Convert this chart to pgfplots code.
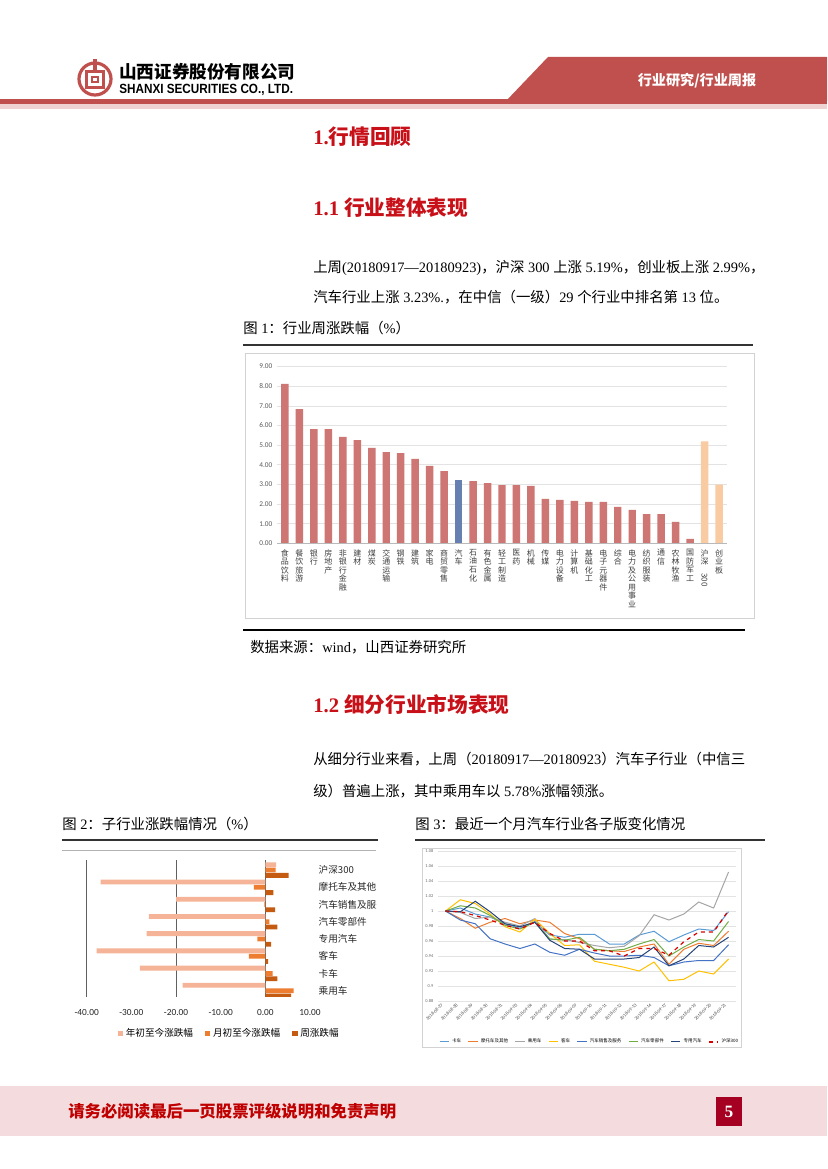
\documentclass[border=0pt]{standalone}
\usepackage{fontspec}
\usepackage{graphicx}
\usepackage{pgfplots}
\pgfplotsset{compat=1.18}
\setmainfont{Liberation Serif}
\newfontfamily\cjk{Noto Sans CJK SC}
\newfontfamily\carl{Carlito}
\newfontfamily\lsans{Liberation Sans}
\definecolor{hdred}{RGB}{192,80,77}
\definecolor{headred}{RGB}{200,16,24}
\definecolor{barred}{RGB}{206,118,116}
\definecolor{barblue}{RGB}{102,128,178}
\definecolor{barpeach}{RGB}{249,203,163}
\definecolor{yrcol}{RGB}{245,180,152}
\definecolor{mocol}{RGB}{237,125,49}
\definecolor{wkcol}{RGB}{197,90,17}
\definecolor{c1}{RGB}{91,155,213}
\definecolor{c2}{RGB}{237,125,49}
\definecolor{c3}{RGB}{165,165,165}
\definecolor{c4}{RGB}{255,192,0}
\definecolor{c5}{RGB}{68,114,196}
\definecolor{c6}{RGB}{112,173,71}
\definecolor{c7}{RGB}{38,68,120}
\definecolor{footred}{RGB}{192,0,0}
\definecolor{pagered}{RGB}{165,0,33}
\definecolor{footpink}{RGB}{244,220,222}
\newcommand{\fs}[1]{\fontsize{#1}{#1}\selectfont}
\begin{document}
\begin{tikzpicture}[x=0.75pt,y=-0.75pt]
\useasboundingbox (0,0) rectangle (827,1169);
\fill[white] (0,0) rectangle (827,1169);
% ---------- header ----------
\fill[hdred] (548,57) -- (827,57) -- (827,101) -- (506,101) -- cycle;
\fill[hdred] (0,99) rectangle (827,104);
\fill[hdred!25] (0,104) rectangle (827,109);
\node[text=white, inner sep=0] at (697,81) {\cjk\bfseries\fs{10.6}行业研究/行业周报};
\begin{scope}[shift={(95,79)}]
\draw[hdred, line width=2.4pt] (0,0) circle (16);
\fill[hdred] (-10,-9) rectangle (10,10);
\fill[white] (-7,-6) rectangle (7,7);
\fill[hdred] (-4,-3) rectangle (4,4);
\fill[white] (-2,-1) rectangle (2,2);
\fill[hdred] (-1.6,-20) rectangle (1.6,-9);
\end{scope}
\node[anchor=west, inner sep=0] at (119,72) {\cjk\bfseries\fs{13.2}山西证券股份有限公司};
\node[anchor=west, inner sep=0] at (119,90) {\scalebox{0.88}[1]{\lsans\bfseries\fs{10}SHANXI SECURITIES CO., LTD.}};
% ---------- headings and text ----------
\node[anchor=west, inner sep=0, text=headred] at (313,137) {\bfseries\fs{15.5}1.{\cjk 行情回顾}};
\node[anchor=west, inner sep=0, text=headred] at (313,208) {\bfseries\fs{15.5}1.1 {\cjk 行业整体表现}};
\node[anchor=west, inner sep=0] at (313,268) {\fs{10.8}{\cjk 上周}(20180917—20180923){\cjk ，沪深} 300 {\cjk 上涨} 5.19\%{\cjk ，创业板上涨} 2.99\%{\cjk ，}};
\node[anchor=west, inner sep=0] at (313,297) {\fs{10.8}{\cjk 汽车行业上涨} 3.23\%.{\cjk ，在中信（一级）}29 {\cjk 个行业中排名第} 13 {\cjk 位。}};
\node[anchor=west, inner sep=0] at (243,328) {\fs{10.8}{\cjk 图} 1{\cjk ：行业周涨跌幅（}\%{\cjk ）}};
\draw[black!80, line width=1.1pt] (243,345) -- (753,345);
\draw[gray!35, line width=0.5pt] (245,353) rectangle (754,618);
\draw[black, line width=0.8pt] (243,630) -- (745,630);
\node[anchor=west, inner sep=0] at (250,647) {\fs{10.8}{\cjk 数据来源：}wind{\cjk ，山西证券研究所}};
\node[anchor=west, inner sep=0, text=headred] at (313,705) {\bfseries\fs{15.5}1.2 {\cjk 细分行业市场表现}};
\node[anchor=west, inner sep=0] at (313,759) {\fs{10.8}{\cjk 从细分行业来看，上周（}20180917—20180923{\cjk ）汽车子行业（中信三}};
\node[anchor=west, inner sep=0] at (313,791) {\fs{10.8}{\cjk 级）普遍上涨，其中乘用车以} 5.78\%{\cjk 涨幅领涨。}};
\node[anchor=west, inner sep=0] at (62,824) {\fs{10.8}{\cjk 图} 2{\cjk ：子行业涨跌幅情况（}\%{\cjk ）}};
\node[anchor=west, inner sep=0] at (415,824) {\fs{10.8}{\cjk 图} 3{\cjk ：最近一个月汽车行业各子版变化情况}};
\draw[black!80, line width=1.1pt] (62,840) -- (378,840);
\draw[black!80, line width=1.1pt] (415,840) -- (765,840);
% ---------- chart 1 ----------
\begin{axis}[at={(207.75pt,-407.475pt)}, anchor=south west, scale only axis,
  width=337.5pt, height=132.5pt,
  xmin=-0.55, xmax=30.55, ymin=0, ymax=9, ytick={0,1,...,9},
  xtick={0,...,30},
  xticklabels={{食\\品\\饮\\料},{餐\\饮\\旅\\游},{银\\行},{房\\地\\产},{非\\银\\行\\金\\融},{建\\材},{煤\\炭},{交\\通\\运\\输},{钢\\铁},{建\\筑},{家\\电},{商\\贸\\零\\售},{汽\\车},{石\\油\\石\\化},{有\\色\\金\\属},{轻\\工\\制\\造},{医\\药},{机\\械},{传\\媒},{电\\力\\设\\备},{计\\算\\机},{基\\础\\化\\工},{电\\子\\元\\器\\件},{综\\合},{电\\力\\及\\公\\用\\事\\业},{纺\\织\\服\\装},{通\\信},{农\\林\\牧\\渔},{国\\防\\军\\工},{沪\\深\\\rotatebox{-90}{300}},{创\\业\\板}},
  xticklabel style={align=center, font=\cjk\fontsize{6}{6.4}\selectfont, text=black!75, anchor=north, yshift=-1pt},
  yticklabel style={font=\carl\fs{5.5}, text=black!65, /pgf/number format/fixed, /pgf/number format/fixed zerofill, /pgf/number format/precision=2, /pgf/number format/assume math mode=true},
  axis line style={draw=none}, major tick length=0pt,
  ymajorgrids, grid style={draw=gray!22, line width=0.5pt},
  ybar, bar width=5.6pt]
\addplot[fill=barred, draw=none, bar shift=0pt] coordinates {(0,8.12) (1,6.84) (2,5.82) (3,5.82) (4,5.42) (5,5.26) (6,4.86) (7,4.65) (8,4.60) (9,4.30) (10,3.94) (11,3.68) (13,3.17) (14,3.07) (15,2.97) (16,2.97) (17,2.92) (18,2.26) (19,2.21) (20,2.16) (21,2.11) (22,2.11) (23,1.85) (24,1.70) (25,1.49) (26,1.49) (27,1.09) (28,0.22)};
\addplot[fill=barblue, draw=none, bar shift=0pt] coordinates {(12,3.23)};
\addplot[fill=barpeach, draw=none, bar shift=0pt] coordinates {(29,5.19) (30,2.99)};
\draw[gray!55, line width=0.5pt] (axis cs:-0.55,0) -- (axis cs:30.55,0);
\end{axis}
% ---------- chart 2 ----------
\draw[gray!60, line width=0.6pt] (62,850) -- (376,850);
\begin{scope}
\clip (40,845) rectangle (376,1060);
\begin{axis}[at={(65.025pt,-747.525pt)}, anchor=south west, scale only axis,
  width=167.5pt, height=102.5pt,
  xbar, bar width=3.6pt,
  xmin=-40, xmax=10, ymin=-0.35, ymax=7.58,
  xtick={-40,-30,...,10}, ytick={0,...,7},
  yticklabels={乘用车,卡车,客车,专用汽车,汽车零部件,汽车销售及服务,摩托车及其他,沪深300},
  yticklabel pos=right,
  yticklabel style={font=\cjk\fs{7.2}, anchor=west, xshift=3pt, text=black!85},
  xticklabel style={font=\carl\fs{7}, yshift=-6pt, text=black!85, /pgf/number format/fixed, /pgf/number format/fixed zerofill, /pgf/number format/precision=2, /pgf/number format/assume math mode=true},
  axis line style={draw=none}, major tick length=0pt,
  extra x ticks={-40,-20,0}, extra x tick labels={},
  extra x tick style={grid=major, grid style={draw=gray!75!black, line width=0.6pt}},
  legend style={at={(0.64,-0.27)}, anchor=center, legend columns=3, draw=none, fill=none, font=\cjk\fs{7.2}, /tikz/every even column/.append style={column sep=7pt}},
  legend image code/.code={\fill[#1] (0pt,-2pt) rectangle (4pt,2pt);}]
\addplot[fill=yrcol, draw=none, bar shift=4pt] coordinates {(-18.5,0) (-28.1,1) (-37.8,2) (-26.6,3) (-26.1,4) (-20.0,5) (-36.9,6) (2.4,7)};
\addplot[fill=mocol, draw=none, bar shift=0pt] coordinates {(6.3,0) (1.6,1) (-3.7,2) (-1.8,3) (0.9,4) (-0.2,5) (-2.6,6) (2.3,7)};
\addplot[fill=wkcol, draw=none, bar shift=-4pt] coordinates {(5.78,0) (2.7,1) (0.6,2) (1.3,3) (2.7,4) (2.2,5) (1.8,6) (5.19,7)};
\legend{年初至今涨跌幅,月初至今涨跌幅,周涨跌幅}
\end{axis}
\end{scope}
% ---------- chart 3 ----------
\draw[gray!35, line width=0.5pt] (422,848) rectangle (741,1047);
\begin{axis}[at={(328.5pt,-750.75pt)}, anchor=south west, scale only axis,
  width=223.5pt, height=112.5pt,
  xmin=-0.5, xmax=19.5, ymin=0.88, ymax=1.08,
  ytick={0.88,0.90,0.92,0.94,0.96,0.98,1,1.02,1.04,1.06,1.08},
  yticklabels={0.88,0.9,0.92,0.94,0.96,0.98,1,1.02,1.04,1.06,1.08},
  xtick={0,...,19},
  xticklabels={2018-08-27,2018-08-28,2018-08-29,2018-08-30,2018-08-31,2018-09-03,2018-09-04,2018-09-05,2018-09-06,2018-09-07,2018-09-10,2018-09-11,2018-09-12,2018-09-13,2018-09-14,2018-09-17,2018-09-18,2018-09-19,2018-09-20,2018-09-21},
  xticklabel style={rotate=45, anchor=east, font=\carl\fs{3.5}, text=black!70},
  yticklabel style={font=\carl\fs{3.3}, text=black!60},
  axis line style={draw=none}, major tick length=0pt,
  ymajorgrids, grid style={draw=gray!22, line width=0.5pt},
  legend style={at={(0.51,-0.273)}, anchor=center, legend columns=8, draw=none, fill=none, font=\cjk\fs{3.4}, /tikz/every even column/.append style={column sep=3pt}},
  legend image code/.code={\draw[#1] (0pt,0pt) -- (7pt,0pt);},
  every axis plot/.append style={line width=0.75pt}]
\addplot[c1] coordinates {(0,1.0) (1,1.004) (2,0.996) (3,0.992) (4,0.983) (5,0.977) (6,0.986) (7,0.968) (8,0.965) (9,0.969) (10,0.969) (11,0.956) (12,0.956) (13,0.968) (14,0.973) (15,0.959) (16,0.968) (17,0.976) (18,0.974) (19,0.999)};
\addplot[c2] coordinates {(0,1.0) (1,0.990) (2,0.977) (3,0.985) (4,0.990) (5,0.983) (6,0.988) (7,0.985) (8,0.970) (9,0.963) (10,0.949) (11,0.947) (12,0.946) (13,0.952) (14,0.956) (15,0.929) (16,0.949) (17,0.957) (18,0.954) (19,0.973)};
\addplot[c3] coordinates {(0,1.0) (1,0.998) (2,0.990) (3,0.992) (4,0.985) (5,0.980) (6,0.990) (7,0.962) (8,0.962) (9,0.958) (10,0.954) (11,0.951) (12,0.953) (13,0.967) (14,0.995) (15,0.988) (16,0.996) (17,1.012) (18,1.004) (19,1.052)};
\addplot[c4] coordinates {(0,1.0) (1,1.015) (2,1.010) (3,0.996) (4,0.979) (5,0.972) (6,0.989) (7,0.970) (8,0.954) (9,0.955) (10,0.933) (11,0.929) (12,0.925) (13,0.920) (14,0.932) (15,0.907) (16,0.909) (17,0.920) (18,0.916) (19,0.936)};
\addplot[c5] coordinates {(0,1.0) (1,0.988) (2,0.983) (3,0.963) (4,0.956) (5,0.950) (6,0.956) (7,0.945) (8,0.941) (9,0.949) (10,0.944) (11,0.940) (12,0.940) (13,0.941) (14,0.938) (15,0.927) (16,0.932) (17,0.934) (18,0.934) (19,0.955)};
\addplot[c6] coordinates {(0,1.0) (1,1.007) (2,1.004) (3,0.994) (4,0.981) (5,0.976) (6,0.985) (7,0.963) (8,0.961) (9,0.965) (10,0.949) (11,0.947) (12,0.949) (13,0.956) (14,0.962) (15,0.940) (16,0.952) (17,0.962) (18,0.960) (19,0.986)};
\addplot[c7] coordinates {(0,1.0) (1,0.999) (2,1.013) (3,0.999) (4,0.983) (5,0.979) (6,0.985) (7,0.961) (8,0.950) (9,0.949) (10,0.936) (11,0.936) (12,0.936) (13,0.938) (14,0.952) (15,0.927) (16,0.936) (17,0.954) (18,0.952) (19,0.965)};
\addplot[red!85!black, dashed, line width=0.9pt] coordinates {(0,1.0) (1,0.999) (2,0.994) (3,0.988) (4,0.981) (5,0.976) (6,0.985) (7,0.970) (8,0.960) (9,0.960) (10,0.947) (11,0.947) (12,0.940) (13,0.950) (14,0.950) (15,0.941) (16,0.959) (17,0.972) (18,0.972) (19,1.001)};
\legend{卡车,摩托车及其他,乘用车,客车,汽车销售及服务,汽车零部件,专用汽车,沪深300}
\end{axis}
% ---------- footer ----------
\fill[footpink] (0,1086) rectangle (827,1136);
\node[anchor=west, inner sep=0, text=footred] at (68,1111) {\cjk\bfseries\fs{12.3}请务必阅读最后一页股票评级说明和免责声明};
\fill[pagered] (716,1097) rectangle (742,1126);
\node[text=white, inner sep=0] at (729,1111.5) {\bfseries\fs{13}5};
\end{tikzpicture}
\end{document}
